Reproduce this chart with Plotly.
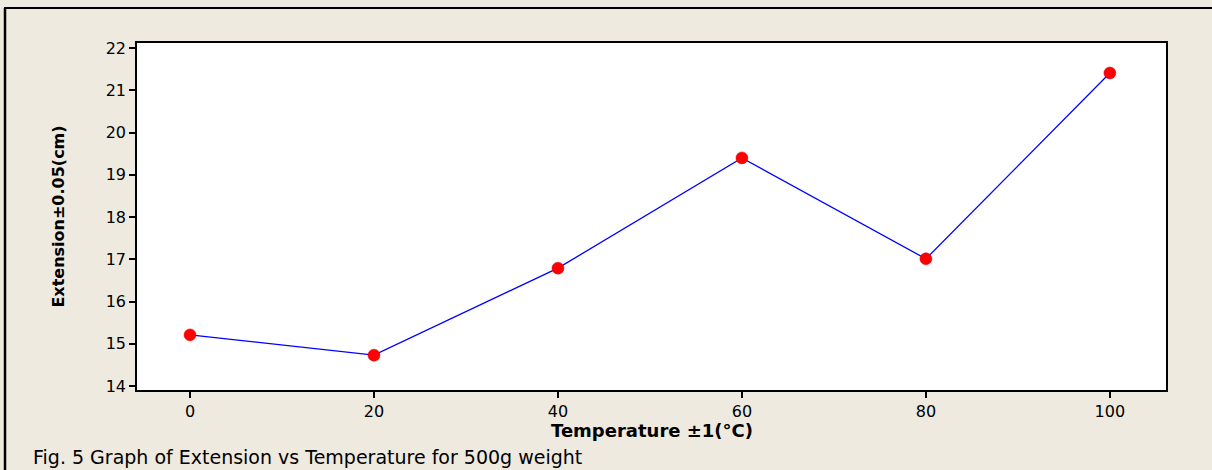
import plotly.graph_objects as go

temperature = [0, 20, 40, 60, 80, 100]
extension = [15.21, 14.73, 16.79, 19.40, 17.01, 21.41]
x_ticks = [0, 20, 40, 60, 80, 100]
y_ticks = [14, 15, 16, 17, 18, 19, 20, 21, 22]

L, R, T, B = 137, 46, 43, 80
W, H = 1212, 470
pw, ph = W - L - R, H - T - B

fig = go.Figure()
fig.add_trace(go.Scatter(
    x=temperature, y=extension, mode="lines+markers",
    line=dict(color="#0000FF", width=1.3),
    marker=dict(color="#FF0000", size=12, line=dict(color="#E00000", width=0.5)),
    showlegend=False,
))

bg = "#EEEAE0"
fig.update_layout(
    width=W, height=H,
    margin=dict(l=L, r=R, t=T, b=B),
    paper_bgcolor=bg, plot_bgcolor="white",
    font=dict(family="DejaVu Sans, Verdana", color="black", size=16),
    xaxis=dict(
        range=[-5.76, 106.1], tickvals=x_ticks, ticks="outside", ticklen=6,
        tickcolor="black", tickwidth=1.5, showgrid=False, zeroline=False,
        showline=True, linecolor="black", linewidth=1.5, mirror=True,
        tickfont=dict(size=16),
    ),
    yaxis=dict(
        range=[13.905, 22.12], tickvals=y_ticks, ticks="outside", ticklen=6,
        tickcolor="black", tickwidth=1.5, showgrid=False, zeroline=False,
        showline=True, linecolor="black", linewidth=1.5, mirror=True,
        tickfont=dict(size=16),
        title=dict(text="<b>Extension±0.05(cm)</b>",
                   font=dict(size=16, family="DejaVu Sans"),
                   standoff=37),
    ),
    shapes=[
        dict(type="line", xref="paper", yref="paper",
             x0=(4 - L) / pw, x1=(W - L) / pw,
             y0=1 + (T - 8) / ph, y1=1 + (T - 8) / ph,
             line=dict(color="black", width=2)),
        dict(type="line", xref="paper", yref="paper",
             x0=(5 - L) / pw, x1=(5 - L) / pw,
             y0=1 + (T - 8) / ph, y1=-(B) / ph,
             line=dict(color="black", width=2.5)),
    ],
    annotations=[
        dict(text="<b>Temperature ±1(°C)</b>",
             xref="paper", yref="paper", x=0.5, y=-(430 - (T + ph)) / ph,
             xanchor="center", yanchor="middle", showarrow=False,
             font=dict(size=18, family="DejaVu Sans, Verdana")),
        dict(text="Fig. 5 Graph of Extension vs Temperature for 500g weight",
             xref="paper", yref="paper", x=(31 - L) / pw, y=-(457 - (T + ph)) / ph,
             xanchor="left", yanchor="middle", showarrow=False,
             font=dict(size=19, family="DejaVu Sans, Verdana")),
    ],
)

fig.write_html("out.html", config={"displayModeBar": False},
               post_script="document.body.style.margin='0';document.body.style.overflow='hidden';")
